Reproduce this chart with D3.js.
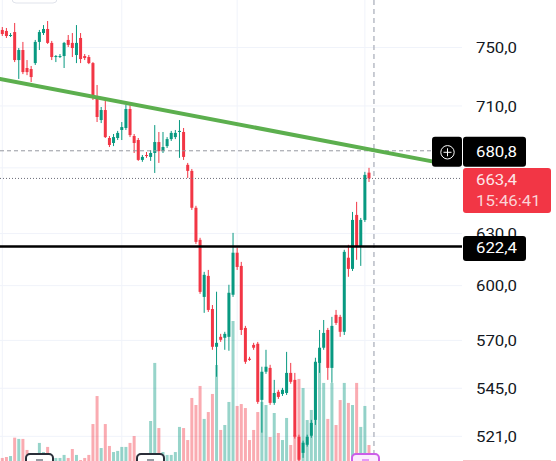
<!DOCTYPE html>
<html>
<head>
<meta charset="utf-8">
<script src="https://cdn.jsdelivr.net/npm/d3@7"></script>
<style>
  html, body { margin: 0; padding: 0; background: #fff; }
  svg { display: block; font-family: Roboto, "Noto Sans", sans-serif; }
</style>
</head>
<body>
<div id="chart"></div>
<script>
// OHLC, one candle per bar (90 bars)
const opens = [762.4, 761.7, 758.1, 760.9, 741.2, 748.2, 735.7, 735.0, 739.1, 753.9,
  760.2, 763.1, 753.2, 743.3, 743.3, 744.0, 755.3, 753.2, 744.7, 756.7,
  744.0, 743.3, 739.1, 716.0, 700.7, 707.3, 689.0, 685.8, 689.0, 694.2,
  695.5, 708.0, 690.3, 687.7, 675.0, 678.1, 676.9, 679.4, 686.4, 680.6,
  683.8, 688.3, 689.6, 692.9, 692.9, 671.9, 668.1, 645.4, 626.3, 593.7,
  605.5, 587.0, 566.6, 571.9, 571.4, 571.9, 594.9, 618.8, 611.2, 576.7,
  560.3, 567.6, 568.2, 539.1, 553.5, 555.5, 537.6, 543.2, 542.1, 542.6,
  552.9, 549.3, 520.8, 513.0, 516.9, 521.3, 529.1, 558.1, 566.1, 575.6,
  555.5, 583.8, 582.7, 574.6, 615.9, 609.5, 641.1, 622.2, 638.1, 667.0];

const highs = [764.5, 763.8, 760.2, 767.4, 749.6, 753.9, 741.2, 737.1, 755.3, 762.4,
  765.9, 768.8, 754.6, 744.7, 745.4, 753.9, 758.8, 760.2, 765.9, 760.2,
  745.4, 744.7, 739.8, 724.1, 709.3, 714.0, 690.3, 691.6, 693.6, 699.4,
  710.7, 710.7, 691.6, 689.0, 678.1, 680.0, 681.3, 697.4, 692.9, 692.9,
  689.6, 693.6, 694.2, 700.7, 695.5, 673.1, 669.3, 646.6, 627.5, 607.8,
  608.9, 589.2, 596.6, 573.5, 574.6, 600.5, 630.4, 621.7, 613.5, 577.8,
  561.3, 568.7, 569.2, 556.1, 565.0, 557.1, 549.3, 544.2, 545.2, 563.9,
  558.1, 552.9, 521.8, 518.9, 521.8, 529.1, 560.8, 575.6, 581.0, 576.7,
  582.7, 586.5, 583.8, 620.5, 623.4, 642.9, 649.0, 639.3, 667.5, 670.0];

const lows = [758.1, 756.7, 757.4, 739.8, 728.2, 731.5, 730.8, 726.1, 737.8, 748.2,
  758.8, 752.5, 741.2, 739.8, 742.6, 735.7, 750.3, 743.3, 739.1, 739.1,
  741.2, 738.4, 714.0, 699.4, 698.7, 689.0, 683.2, 683.8, 687.7, 687.7,
  694.2, 689.6, 679.4, 674.4, 673.8, 676.3, 674.4, 666.8, 673.1, 679.4,
  682.6, 687.1, 688.3, 676.3, 675.0, 663.7, 644.1, 623.9, 595.4, 584.9,
  585.4, 565.0, 550.9, 569.2, 565.0, 564.5, 593.7, 608.9, 572.9, 557.6,
  559.2, 565.0, 537.1, 522.8, 552.4, 536.6, 536.6, 539.6, 541.1, 541.6,
  547.3, 519.9, 508.7, 510.6, 516.0, 520.3, 526.6, 552.9, 565.0, 549.3,
  547.8, 578.3, 571.9, 572.9, 605.0, 608.3, 614.7, 611.2, 636.9, 661.2];

const closes = [759.5, 758.1, 758.8, 741.2, 748.2, 732.9, 732.9, 729.5, 753.9, 760.9,
  763.1, 753.2, 743.3, 744.0, 744.0, 753.2, 751.8, 749.6, 753.2, 741.9,
  742.6, 739.1, 716.0, 702.7, 707.3, 689.6, 684.5, 689.6, 692.3, 696.1,
  708.0, 690.9, 685.8, 675.0, 676.9, 677.8, 679.4, 686.4, 680.6, 683.2,
  688.3, 692.3, 692.3, 693.6, 676.9, 668.1, 645.4, 625.1, 596.5, 606.1,
  586.5, 566.6, 568.7, 570.3, 573.5, 596.0, 618.8, 610.6, 575.6, 558.7,
  559.7, 566.1, 538.1, 553.5, 556.1, 537.6, 542.6, 540.6, 544.2, 552.9,
  548.3, 520.8, 509.7, 517.9, 520.8, 527.6, 558.7, 566.1, 574.0, 555.5,
  577.8, 579.4, 574.6, 619.3, 609.5, 638.1, 622.2, 638.1, 665.6, 663.4];

// volume (relative units)
const volumes = [1.9, 2.5, 3.1, 14.6, 13.8, 13.8, 6.9, 3.8, 5.0, 11.3,
  5.6, 8.8, 2.5, 1.9, 1.9, 3.8, 1.9, 7.5, 3.8, 0.6,
  1.9, 3.8, 23.1, 40.6, 8.1, 23.1, 9.4, 5.6, 6.3, 8.8,
  8.8, 11.3, 15.6, 3.8, 3.1, 3.1, 25.0, 61.3, 20.6, 5.6,
  3.8, 3.8, 5.6, 21.3, 20.6, 13.1, 39.4, 35.0, 46.9, 26.3,
  30.6, 41.9, 60.0, 19.4, 22.5, 36.9, 87.5, 34.4, 35.6, 33.1,
  13.1, 19.4, 30.6, 36.9, 35.0, 15.0, 30.0, 17.5, 13.1, 26.9,
  10.0, 16.3, 51.3, 45.6, 25.6, 31.9, 61.3, 64.4, 48.8, 26.3,
  48.8, 22.5, 38.1, 48.8, 36.3, 35.0, 48.8, 21.3, 34.4, 10.0];

// price grid lines; 670 has no visible label (it sits under the price boxes)
const gridValues = [521, 545, 570, 600, 630, 670, 710, 750, 790];
const tickLabels = [521, 545, 570, 600, 630, 710, 750, 790];
const timeGridIdx = [0, 29, 57, 88];

const lastPrice = 663.4;
const lastTimer = "15:46:41";
const crossPrice = 680.8;
const crossIdx = 90.2;
const levelPrice = 622.4;
// trend line anchors (bar index, price)
const trendStart = [-0.56, 728.2];
const trendEnd = [107.5, 672.5];

const W = 556, H = 461;
const plotRight = 462;
const up = "#089981", down = "#f23645";

const svg = d3.select("#chart").append("svg")
  .attr("width", W).attr("height", H);

const x = d3.scaleLinear().domain([0, opens.length - 1]).range([2.3, 369]);
const y = d3.scaleLog().domain([509.1, 784.1]).range([H, 0]);
const yv = d3.scaleLinear().domain([0, 100]).range([H, 301]);

const fmt = v => d3.format(".1f")(v).replace(".", ",");
const bars = d3.range(opens.length).map(i => ({
  i: i, o: opens[i], h: highs[i], l: lows[i], c: closes[i], v: volumes[i]
}));

// grid
svg.append("g").selectAll("line").data(gridValues).enter().append("line")
  .attr("x1", 0).attr("x2", plotRight)
  .attr("y1", d => y(d)).attr("y2", d => y(d))
  .attr("stroke", "#f0f3fa").attr("stroke-width", 1);
svg.append("g").selectAll("line").data(timeGridIdx).enter().append("line")
  .attr("x1", d => x(d)).attr("x2", d => x(d))
  .attr("y1", 0).attr("y2", H)
  .attr("stroke", "#f0f3fa").attr("stroke-width", 1);

// volume
svg.append("g").selectAll("rect").data(bars).enter().append("rect")
  .attr("x", d => x(d.i) - 1.5)
  .attr("width", 3)
  .attr("y", d => yv(d.v))
  .attr("height", d => H - yv(d.v))
  .attr("fill", d => d.c >= d.o ? up : down)
  .attr("fill-opacity", 0.42);

// candles
const candle = svg.append("g").selectAll("g").data(bars).enter().append("g")
  .attr("fill", d => d.c >= d.o ? up : down)
  .attr("stroke", d => d.c >= d.o ? up : down);
candle.append("line")
  .attr("x1", d => x(d.i)).attr("x2", d => x(d.i))
  .attr("y1", d => y(d.h)).attr("y2", d => y(d.l))
  .attr("stroke-width", 1);
candle.append("rect")
  .attr("stroke", "none")
  .attr("x", d => x(d.i) - 1.5)
  .attr("width", 3)
  .attr("y", d => y(Math.max(d.o, d.c)))
  .attr("height", d => Math.max(1, Math.abs(y(d.o) - y(d.c))));

// crosshair
svg.append("line")
  .attr("x1", x(crossIdx)).attr("x2", x(crossIdx))
  .attr("y1", 0).attr("y2", H)
  .attr("stroke", "#b8bcc6").attr("stroke-width", 1.5)
  .attr("stroke-dasharray", "5,4");
svg.append("line")
  .attr("x1", 0).attr("x2", 432)
  .attr("y1", y(crossPrice)).attr("y2", y(crossPrice))
  .attr("stroke", "#9598a1").attr("stroke-width", 1)
  .attr("stroke-dasharray", "4,3");

// last price dotted line
svg.append("line")
  .attr("x1", 0).attr("x2", plotRight)
  .attr("y1", y(lastPrice)).attr("y2", y(lastPrice))
  .attr("stroke", "#6a6d78").attr("stroke-width", 1)
  .attr("stroke-dasharray", "1,2");

// horizontal level
svg.append("line")
  .attr("x1", 0).attr("x2", plotRight)
  .attr("y1", y(levelPrice)).attr("y2", y(levelPrice))
  .attr("stroke", "#000").attr("stroke-width", 2.5);

// trend line
svg.append("line")
  .attr("x1", x(trendStart[0])).attr("y1", y(trendStart[1]))
  .attr("x2", x(trendEnd[0])).attr("y2", y(trendEnd[1]))
  .attr("stroke", "#5caf4e").attr("stroke-width", 4)
  .attr("stroke-linecap", "round");

// faint legend box at top
svg.append("rect")
  .attr("x", 12).attr("y", -20).attr("width", 45).attr("height", 23).attr("rx", 4)
  .attr("fill", "#fff").attr("stroke", "#e0e3eb");

// price axis labels
function label(str, tx, ty, color, size) {
  svg.append("text")
    .attr("transform", "translate(" + tx + "," + ty + ") scale(1.12,1)")
    .attr("dy", "0.35em")
    .attr("font-size", size || 15)
    .attr("fill", color)
    .text(str);
}
tickLabels.forEach(t => label(fmt(t), 476, y(t) + 0.5, "#131722"));

// crosshair price box with plus button
const cy = y(crossPrice);
svg.append("rect").attr("x", 432).attr("y", cy - 14).attr("width", 30).attr("height", 30)
  .attr("rx", 3).attr("fill", "#000");
svg.append("rect").attr("x", 463).attr("y", cy - 14).attr("width", 63).attr("height", 30)
  .attr("rx", 3).attr("fill", "#000");
svg.append("circle").attr("cx", 447.5).attr("cy", cy + 1.5).attr("r", 6.7)
  .attr("fill", "none").attr("stroke", "#fff").attr("stroke-width", 1);
svg.append("path")
  .attr("d", "M443.5," + (cy + 1.5) + "h8M447.5," + (cy - 2.5) + "v8")
  .attr("stroke", "#fff").attr("stroke-width", 1);
label(fmt(crossPrice), 476, cy + 1, "#fff");

// last price box
const ly = y(lastPrice);
svg.append("rect").attr("x", 463).attr("y", ly - 10.5).attr("width", 88).attr("height", 45)
  .attr("rx", 3).attr("fill", down);
label(fmt(lastPrice), 476, ly + 1.5, "#fde6e8");
label(lastTimer, 476, ly + 22, "#fbd3d6");

// level box
const hy = y(levelPrice);
svg.append("rect").attr("x", 463).attr("y", hy - 10.6).attr("width", 63).attr("height", 25)
  .attr("rx", 3).attr("fill", "#000");
label(fmt(levelPrice), 476, hy + 1.5, "#fff");

// bottom strip hint of another label
svg.append("rect").attr("x", 463).attr("y", H - 1).attr("width", 88).attr("height", 5)
  .attr("fill", "#f9c3c7");

// event markers on the time scale
[[26, "#2a2e39", "#fff"], [137, "#2a2e39", "#fff"], [352, "#cc5de8", "#fcecff"]].forEach(m => {
  svg.append("rect").attr("x", m[0]).attr("y", 454).attr("width", 27).attr("height", 20)
    .attr("rx", 4).attr("fill", m[2]).attr("stroke", m[1]).attr("stroke-width", 2);
  svg.append("rect").attr("x", m[0] + 10).attr("y", 459).attr("width", 7).attr("height", 3)
    .attr("fill", m[1] === "#2a2e39" ? "#9598a1" : "#e599f7");
});
</script>
</body>
</html>
